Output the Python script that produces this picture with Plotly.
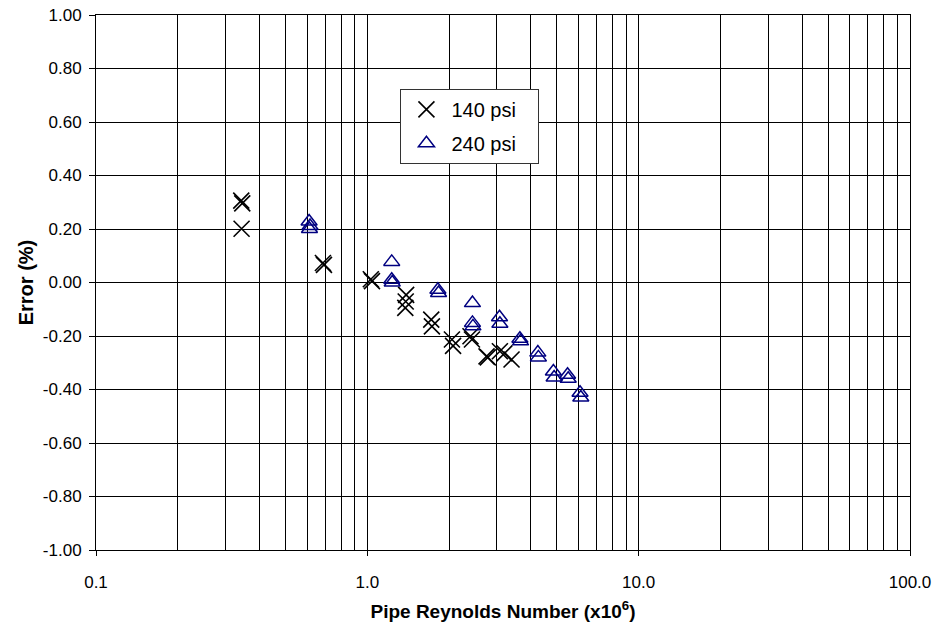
import plotly.graph_objects as go

# ---- data ----
re_140 = [0.343, 0.346, 0.344, 0.686, 0.692, 1.03, 1.04, 1.39, 1.385, 1.38,
          1.72, 1.73, 2.05, 2.07, 2.40, 2.43, 2.75, 2.78, 3.08, 3.20, 3.40]
err_140 = [0.306, 0.296, 0.201, 0.073, 0.066, 0.012, 0.005, -0.046, -0.071, -0.095,
           -0.139, -0.164, -0.213, -0.237, -0.201, -0.213, -0.276, -0.280, -0.257, -0.265, -0.288]

re_240 = [0.610, 0.615, 0.612, 1.23, 1.23, 1.235, 1.82, 1.83, 2.44, 2.44, 2.45,
          3.07, 3.08, 3.65, 3.67, 4.25, 4.27, 4.85, 4.88, 5.47, 5.50, 6.08, 6.12]
err_240 = [0.228, 0.211, 0.200, 0.077, 0.010, 0.000, -0.027, -0.039, -0.077, -0.151, -0.164,
           -0.130, -0.154, -0.210, -0.220, -0.262, -0.280, -0.333, -0.355, -0.345, -0.360, -0.412, -0.430]

x_major = [0.1, 1, 10, 100]
x_major_text = ["0.1", "1.0", "10.0", "100.0"]
minor_mult = [2, 3, 4, 5, 6, 7, 8, 9]
x_minor = [d * m for d in [0.1, 1, 10] for m in minor_mult]

y_ticks = [-1.0, -0.8, -0.6, -0.4, -0.2, 0.0, 0.2, 0.4, 0.6, 0.8, 1.0]
y_tick_text = ["-1.00", "-0.80", "-0.60", "-0.40", "-0.20", "0.00",
               "0.20", "0.40", "0.60", "0.80", "1.00"]

FONT = "Liberation Sans, Arial, sans-serif"
PAD = "&nbsp;" * 3

fig = go.Figure()
fig.add_trace(go.Scatter(
    x=re_140, y=err_140, mode="markers", name="140 psi" + PAD, legendgroup="a",
    marker=dict(symbol="x-thin-open", size=16, color="black",
                line=dict(color="black", width=1.6)),
))
fig.add_trace(go.Scatter(
    x=re_240, y=err_240, mode="markers", name="240 psi" + PAD, legendgroup="b",
    marker=dict(symbol="triangle-up-open", size=14, color="#000080",
                line=dict(color="#000080", width=1.5)),
))

fig.update_layout(
    width=935, height=626,
    margin=dict(l=96, r=25, t=15, b=76, autoexpand=False),
    paper_bgcolor="white", plot_bgcolor="white",
    font=dict(family=FONT, size=17, color="black"),
    showlegend=True,
    legend=dict(x=0.374, y=0.862, xanchor="left", yanchor="top",
                bgcolor="white", bordercolor="#333333", borderwidth=1,
                font=dict(size=20), tracegroupgap=5, itemwidth=40),
    xaxis=dict(
        type="log", range=[-1, 2], automargin=False,
        tickvals=x_major, ticktext=x_major_text,
        ticks="outside", ticklen=5, tickcolor="black",
        showgrid=True, gridcolor="black", gridwidth=1,
        minor=dict(tickvals=x_minor, showgrid=True, gridcolor="black",
                   gridwidth=1, ticks=""),
        showline=True, linecolor="black", linewidth=1, mirror=True,
        ticklabelstandoff=12,
        title=dict(text="<b>Pipe Reynolds Number (x10<sup>6</sup>)</b>",
                   font=dict(size=19), standoff=13),
    ),
    yaxis=dict(
        range=[-1, 1], automargin=False,
        tickvals=y_ticks, ticktext=y_tick_text,
        ticks="outside", ticklen=6, tickcolor="black",
        showgrid=True, gridcolor="black", gridwidth=1,
        zeroline=False,
        showline=True, linecolor="black", linewidth=1, mirror=True,
        ticklabelstandoff=4,
        title=dict(text="<b>Error (%)</b>", font=dict(size=20), standoff=3),
    ),
)

fig.write_html("out.html")
